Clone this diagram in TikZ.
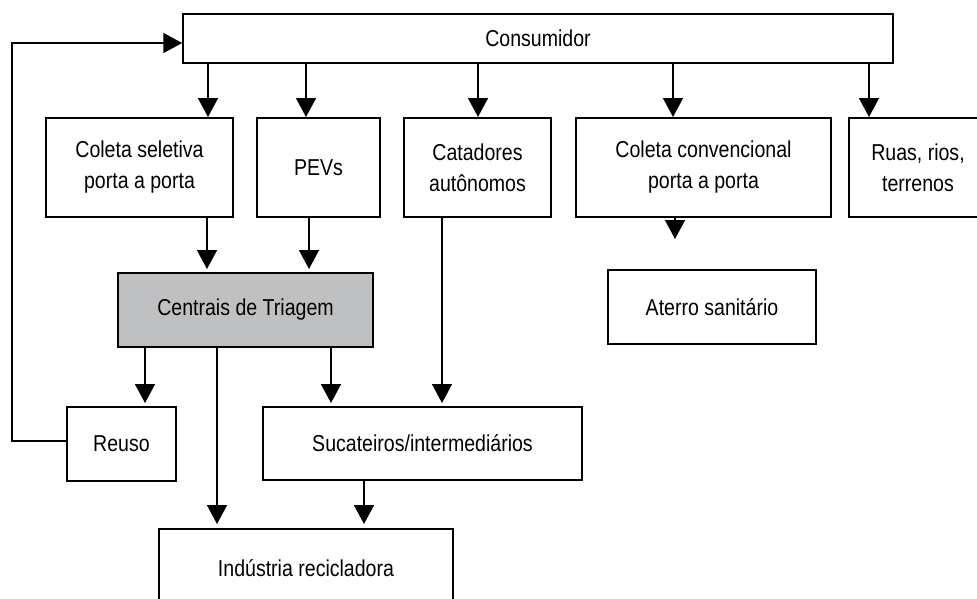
\documentclass[tikz,border=0pt]{standalone}
\usepackage{fontspec}
\setmainfont[FakeStretch=0.85]{Liberation Sans}
\usetikzlibrary{arrows.meta}
\definecolor{boxgray}{RGB}{191,192,194}
\tikzset{
  box/.style={draw=black, line width=1.5pt, fill=white, rectangle, inner sep=0pt, align=center,
    font=\fontsize{23}{31}\selectfont},
  arr/.style={line width=1.5pt, -{Triangle[length=19pt,width=20pt]}},
  conn/.style={line width=1.5pt}
}
\begin{document}
\begin{tikzpicture}[x=1pt,y=-1pt]
\useasboundingbox (0,0) rectangle (977,598);
\clip (0,0) rectangle (977,598);
% nodes
\node[box, minimum width=710pt, minimum height=49pt] (cons) at (538,38.5) {Consumidor};
\node[box, minimum width=187pt, minimum height=99pt] (cs) at (139.5,167.5) {Coleta seletiva\\porta a porta};
\node[box, minimum width=123pt, minimum height=99pt] (pev) at (318.5,167.5) {PEVs};
\node[box, minimum width=147pt, minimum height=99pt] (cat) at (477.5,167.5) {Catadores\\autônomos};
\node[box, minimum width=255pt, minimum height=99pt] (cc) at (703.5,167.5) {Coleta convencional\\porta a porta};
\node[box, minimum width=138pt, minimum height=99pt] (ruas) at (918,167.5) {Ruas, rios,\\terrenos};
\node[box, fill=boxgray, minimum width=255pt, minimum height=74pt] (cent) at (245.5,310) {Centrais de Triagem};
\node[box, minimum width=208pt, minimum height=74pt] (ater) at (712,307) {Aterro sanitário};
\node[box, minimum width=109pt, minimum height=74pt] (reuso) at (121.5,444) {Reuso};
\node[box, minimum width=319pt, minimum height=73pt] (suc) at (422.5,443.5) {Sucateiros/intermediários};
\node[box, minimum width=294pt, minimum height=78pt] (ind) at (306,568) {Indústria recicladora};
% arrow x positions
\coordinate (x1) at (208,117);
\coordinate (x2) at (306,117);
\coordinate (x3) at (478,117);
\coordinate (x4) at (673,117);
\coordinate (x5) at (869,117);
\coordinate (x6) at (207,269);
\coordinate (x7) at (309,269);
\coordinate (x8) at (675,239);
\coordinate (x9) at (145,403);
\coordinate (x10) at (217,524);
\coordinate (x11) at (331,403);
\coordinate (x12) at (442,403);
\coordinate (x13) at (364,524);
\coordinate (fb1) at (12,441);
\coordinate (fb2) at (12,43);
\coordinate (fbr) at (0,441);
\coordinate (fbc) at (0,43);
% connectors
\draw[arr] (x1 |- cons.south) -- (x1);
\draw[arr] (x2 |- cons.south) -- (x2);
\draw[arr] (x3 |- cons.south) -- (x3);
\draw[arr] (x4 |- cons.south) -- (x4);
\draw[arr] (x5 |- cons.south) -- (x5);
\draw[arr] (x6 |- cs.south) -- (x6);
\draw[arr] (x7 |- pev.south) -- (x7);
\draw[arr] (x8 |- cc.south) -- (x8);
\draw[arr] (x9 |- cent.south) -- (x9);
\draw[arr] (x10 |- cent.south) -- (x10);
\draw[arr] (x11 |- cent.south) -- (x11);
\draw[arr] (x12 |- cat.south) -- (x12);
\draw[arr] (x13 |- suc.south) -- (x13);
\draw[arr] (reuso.west |- fbr) -- (fb1) -- (fb2) -- (cons.west |- fbc);
\end{tikzpicture}
\end{document}
